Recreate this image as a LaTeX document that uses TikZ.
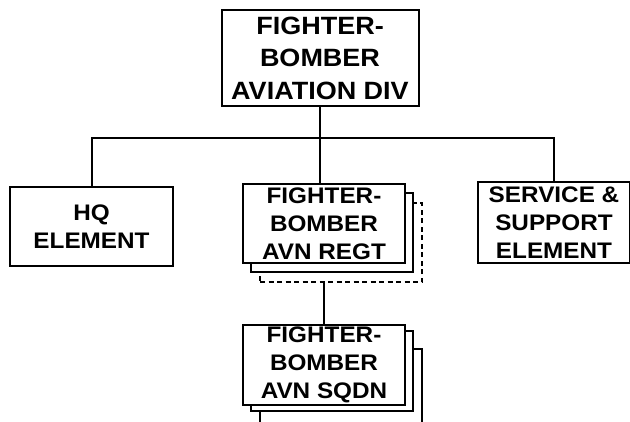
\documentclass[tikz,border=0pt]{standalone}
\usepackage{fontspec}
\setmainfont{Liberation Sans}
\newfontfamily\widefont[FakeStretch=1.08]{Liberation Sans}
\usetikzlibrary{positioning}
\tikzset{
  unitbox/.style={draw=black,line width=2pt,fill=white,align=center,
    inner sep=0pt,font=\widefont\bfseries\fontsize{22.5}{28}\selectfont},
  topbox/.style={unitbox,font=\widefont\bfseries\fontsize{25}{32.5}\selectfont},
  regtsize/.style={minimum width=162pt,minimum height=79pt},
  sqdnsize/.style={minimum width=162pt,minimum height=80pt},
  dashbox/.style={unitbox,dash pattern=on 5pt off 3.5pt},
  orgline/.style={line width=2pt,draw=black},
}
\begin{document}
\begin{tikzpicture}[x=1pt,y=1pt]
  \useasboundingbox (0,0) rectangle (630,-421);
  \node[topbox,minimum width=197pt,minimum height=96pt] (div) at (320,-58)
    {FIGHTER-\\BOMBER\\AVIATION DIV};
  \node[unitbox,minimum width=163pt,minimum height=79pt] (hq) at (91.5,-226.5)
    {HQ\\ELEMENT};
  \node[unitbox,minimum width=152pt,minimum height=81pt] (svc) at (554,-222.5)
    {SERVICE \&\\SUPPORT\\ELEMENT};
  % regiment stack
  \node[dashbox,regtsize] (regt3) at (341,-242.5) {};
  \node[unitbox,regtsize] (regt2) at (332,-232.5) {};
  \node[unitbox,regtsize] (regt) at (324,-223.5)
    {FIGHTER-\\BOMBER\\AVN REGT};
  % squadron stack
  \node[unitbox,sqdnsize] (sqdn3) at (341,-389) {};
  \node[unitbox,sqdnsize] (sqdn2) at (332,-371) {};
  \node[unitbox,sqdnsize] (sqdn) at (324,-365)
    {FIGHTER-\\BOMBER\\AVN SQDN};
  \coordinate (bus) at (320,-138);
  % connectors
  \draw[orgline] (div.south) -- (div.south |- regt.north);
  \draw[orgline] (hq.north) |- (bus) -| (svc.north);
  \draw[orgline] (regt3.south -| sqdn.north) -- (sqdn.north);
\end{tikzpicture}
\end{document}
